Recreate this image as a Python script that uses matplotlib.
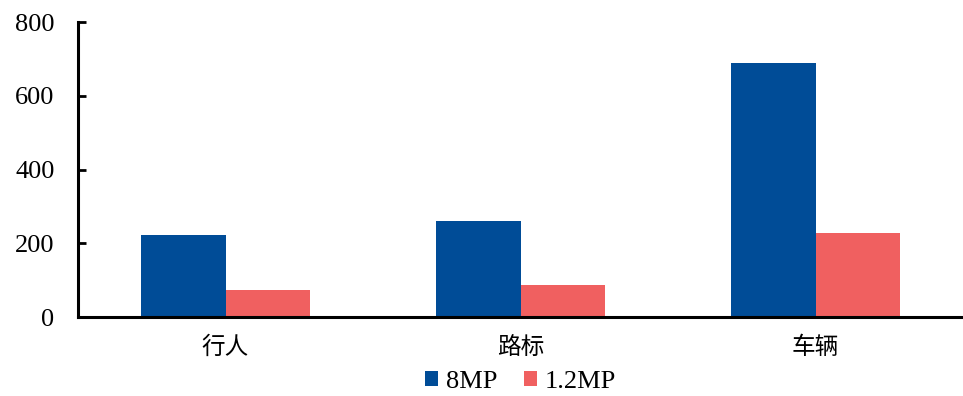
import matplotlib.pyplot as plt
import numpy as np

plt.rcParams['font.family'] = ['Liberation Serif', 'Noto Sans CJK SC']

categories = ["行人", "路标", "车辆"]
series_names = ["8MP", "1.2MP"]
vals_8mp = [222, 260, 688]
vals_12mp = [73, 86, 228]
colors = ["#004C97", "#F06060"]

fig = plt.figure(figsize=(9.63, 3.96), dpi=100)
ax = fig.add_axes([0.081, 0.199, 0.919, 0.745])

x = np.arange(len(categories))
w = 0.285
ax.bar(x - w / 2, vals_8mp, w, color=colors[0], label=series_names[0])
ax.bar(x + w / 2, vals_12mp, w, color=colors[1], label=series_names[1])

ax.set_xlim(-0.5, len(categories) - 0.5)
ax.set_ylim(0, 800)
ax.set_yticks([0, 200, 400, 600, 800])
ax.set_xticks(x)
ax.set_xticklabels(categories, fontsize=17)
ax.tick_params(axis="y", labelsize=19, length=6, width=2, direction="in", pad=17)
ax.tick_params(axis="x", length=0, pad=14)
for s in ["top", "right"]:
    ax.spines[s].set_visible(False)
ax.spines["left"].set_linewidth(2.2)
ax.spines["bottom"].set_linewidth(2.2)

ax.legend(loc="center", bbox_to_anchor=(0.5, -0.22), ncol=2, frameon=False,
          fontsize=19, handlelength=0.5, handleheight=0.5, handletextpad=0.3,
          columnspacing=1.0, borderpad=0.1)

fig.savefig("out.png", dpi=100)
